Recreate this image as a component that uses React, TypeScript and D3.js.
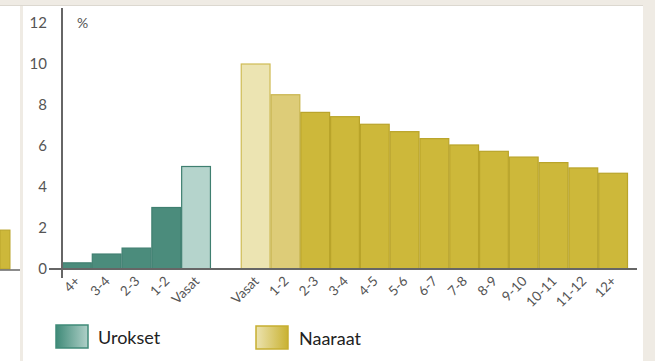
import React from "react";
import * as d3 from "d3";

const maleCats = ["4+", "3-4", "2-3", "1-2", "Vasat"];
const maleValues = [0.3, 0.73, 1.02, 3.0, 5.0];
const femaleCats = ["Vasat", "1-2", "2-3", "3-4", "4-5", "5-6", "6-7", "7-8", "8-9", "9-10", "10-11", "11-12", "12+"];
const femaleValues = [10.0, 8.5, 7.64, 7.43, 7.06, 6.7, 6.36, 6.05, 5.74, 5.46, 5.19, 4.93, 4.67];
const yTicks = [0, 2, 4, 6, 8, 10, 12];
const legendLabels = ["Urokset", "Naaraat"];

const W = 655, H = 361;
const FONT = "Lato, 'Open Sans', sans-serif";

export default function App() {
  const slots = [
    ...maleCats.map((c, i) => `m-${i}`),
    "gap",
    ...femaleCats.map((c, i) => `f-${i}`),
  ];
  const x = d3.scaleBand<string>().domain(slots).range([62, 628]).padding(0);
  const y = d3.scaleLinear().domain([0, 12]).range([269, 23]);
  const bw = x.bandwidth();

  const maleFill = (i: number) => (i === maleCats.length - 1 ? "#b5d4cc" : "#4b8c7c");
  const femaleFill = (i: number) => (i === 0 ? "#ece4b2" : i === 1 ? "#ddcc78" : "#cdb83a");
  const femaleStroke = (i: number) => (i === 0 ? "#cfbb55" : i === 1 ? "#c8b54e" : "#b9a42a");

  const bars = [
    ...maleValues.map((v, i) => ({ key: `m-${i}`, v, label: maleCats[i], fill: maleFill(i), stroke: "#3f7f70" })),
    ...femaleValues.map((v, i) => ({ key: `f-${i}`, v, label: femaleCats[i], fill: femaleFill(i), stroke: femaleStroke(i) })),
  ];

  return (
    <svg width={W} height={H} style={{ position: "absolute", left: 0, top: 0, display: "block" }}>
      <defs>
        <linearGradient id="gm" x1="0" x2="1" y1="0" y2="0">
          <stop offset="0" stopColor="#3f8a78" />
          <stop offset="1" stopColor="#afd0c8" />
        </linearGradient>
        <linearGradient id="gf" x1="0" x2="1" y1="0" y2="0">
          <stop offset="0" stopColor="#ece3b0" />
          <stop offset="1" stopColor="#c9b232" />
        </linearGradient>
      </defs>
      <rect x={0} y={0} width={W} height={H} fill="#efebe4" />
      {/* previous panel sliver */}
      <rect x={0} y={6} width={20} height={H - 6} fill="#ffffff" />
      <rect x={0} y={y(1.9)} width={10} height={y(0) - y(1.9)} fill="#cdb83a" stroke="#b9a42a" strokeWidth={1} />
      <line x1={0} x2={20} y1={270} y2={270} stroke="#666" strokeWidth={1.5} />
      {/* main panel */}
      <rect x={23} y={6} width={620} height={H - 6} fill="#ffffff" />
      <line x1={0} x2={643} y1={5.5} y2={5.5} stroke="#dcd8d0" strokeWidth={1} />

      {bars.map((b) => (
        <rect
          key={b.key}
          x={(x(b.key) as number) + 0.5}
          y={y(b.v)}
          width={bw - 1}
          height={y(0) - y(b.v)}
          fill={b.fill}
          stroke={b.stroke}
          strokeWidth={1.2}
        />
      ))}

      {/* axes */}
      <line x1={62} x2={62} y1={8} y2={278} stroke="#666" strokeWidth={2} />
      <line x1={49} x2={637} y1={y(0)} y2={y(0)} stroke="#666" strokeWidth={2} />
      {yTicks.map((t) => (
        <text key={t} x={47} y={y(t)} dy="0.36em" textAnchor="end" fontFamily={FONT} fontSize={15} fill="#555">
          {t}
        </text>
      ))}
      <text x={77} y={23} dy="0.36em" fontFamily={FONT} fontSize={14} fill="#555">%</text>

      {bars.map((b) => {
        const cx = (x(b.key) as number) + bw / 2 + 4;
        return (
          <text
            key={"l" + b.key}
            transform={`translate(${cx},${282}) rotate(-45)`}
            textAnchor="end"
            fontFamily={FONT}
            fontSize={13.5}
            fill="#555"
          >
            {b.label}
          </text>
        );
      })}

      {/* legend */}
      <rect x={56} y={325} width={32} height={23} fill="url(#gm)" stroke="#3f8a78" strokeWidth={1.5} />
      <text x={98} y={344} fontFamily={FONT} fontSize={18} fill="#222">{legendLabels[0]}</text>
      <rect x={256} y={326} width={32} height={23} fill="url(#gf)" stroke="#c6ae30" strokeWidth={1.5} />
      <text x={299} y={345} fontFamily={FONT} fontSize={18} fill="#222">{legendLabels[1]}</text>
    </svg>
  );
}
